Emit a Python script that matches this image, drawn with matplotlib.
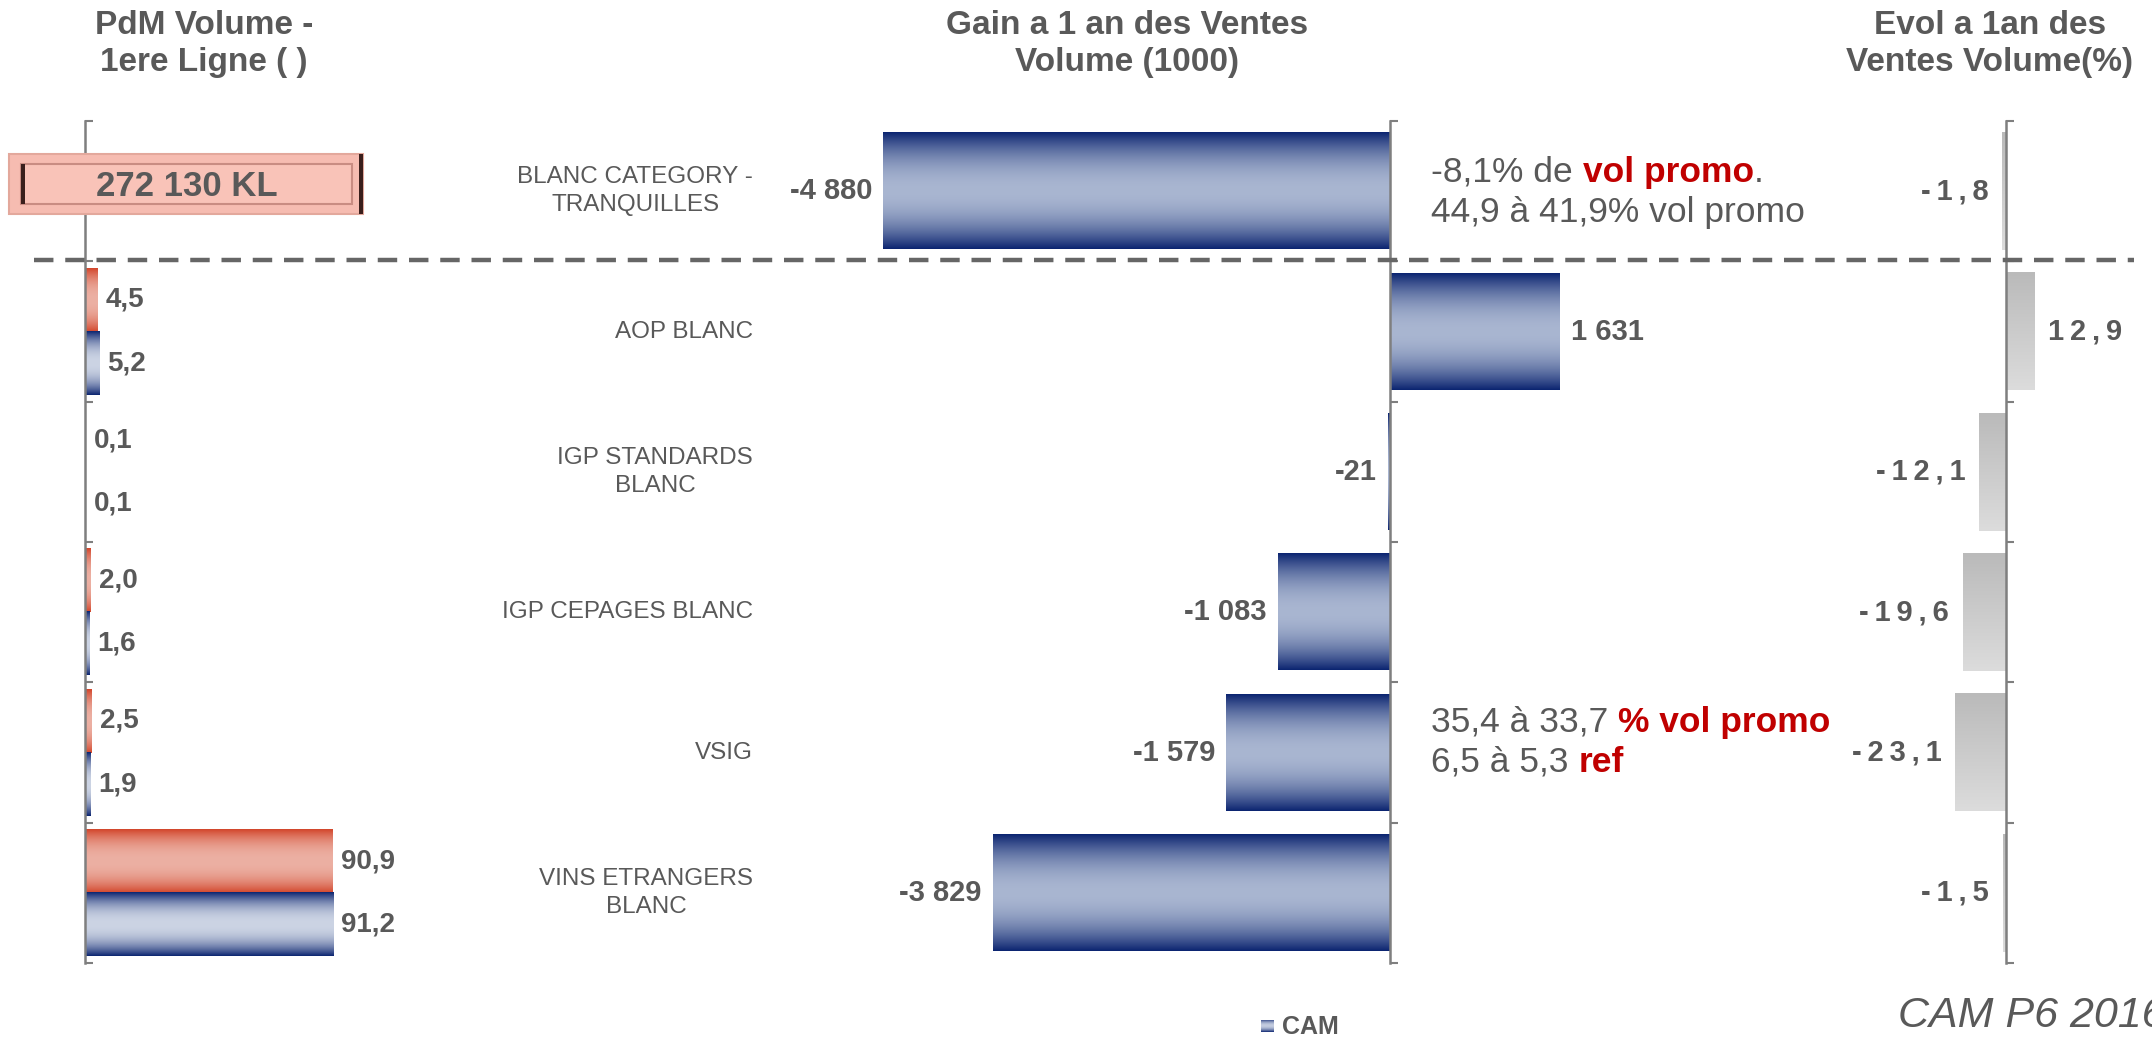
import numpy as np
import matplotlib
matplotlib.use("Agg")
import matplotlib.pyplot as plt
from matplotlib.patches import Rectangle
from matplotlib.lines import Line2D
from matplotlib.transforms import blended_transform_factory
from matplotlib.colors import to_rgb

plt.rcParams['font.family'] = ['Liberation Sans', 'DejaVu Sans']
plt.rcParams['lines.scale_dashes'] = False

# ---- data ----
categories = ["BLANC CATEGORY -\nTRANQUILLES", "AOP BLANC", "IGP STANDARDS\nBLANC",
              "IGP CEPAGES BLANC", "VSIG", "VINS ETRANGERS\nBLANC"]
pdm_red = [np.nan, 4.5, 0.1, 2.0, 2.5, 90.9]
pdm_blue = [np.nan, 5.2, 0.1, 1.6, 1.9, 91.2]
gain_volume = [-4880, 1631, -21, -1083, -1579, -3829]
evol_pct = [-1.8, 12.9, -12.1, -19.6, -23.1, -1.5]
total_label = "272 130 KL"
titles = ["PdM Volume -\n1ere Ligne ( )", "Gain a 1 an des Ventes\nVolume (1000)",
          "Evol a 1an des\nVentes Volume(%)"]
legend_label = "CAM"
source_label = "CAM P6 2016"

GRAY = "#595959"
RED = "#c00000"
AXIS = "#7f7f7f"

W, H = 2152, 1038
fig = plt.figure(figsize=(W / 100, H / 100), dpi=100)
renderer = fig.canvas.get_renderer()

bottom = (H - 963) / H
height = (963 - 121) / H
ax_l = fig.add_axes([85 / W, bottom, 272 / W, height])
ax_m = fig.add_axes([871 / W, bottom, 727 / W, height])
ax_r = fig.add_axes([1940 / W, bottom, 110 / W, height])

n = len(categories)
ypos = np.arange(n)


def fmt_dec(v):
    return f"{v:.1f}".replace(".", ",")


def fmt_int(v):
    return f"{v:,.0f}".replace(",", " ")


def spaced(s):
    # widen the tracking of a short label
    return "\u2009".join(s)


def symmetric_profile(k=256, p=2.0):
    t = np.linspace(0, 1, k)
    return 1 - np.abs(2 * t - 1) ** p


def gradient_fill(ax, rect, edge, center, profile):
    x0, y0 = rect.get_x(), rect.get_y()
    w, h = rect.get_width(), rect.get_height()
    e, c = np.array(to_rgb(edge)), np.array(to_rgb(center))
    cols = e + (c - e) * profile[:, None]
    img = cols[:, None, :]
    ax.imshow(img, extent=(x0, x0 + w, y0 + h, y0), origin="upper",
              aspect="auto", interpolation="bilinear", zorder=2)
    rect.set_facecolor("none")
    rect.set_edgecolor("none")


def style_axis(ax, xlim):
    for s in ["top", "right", "bottom"]:
        ax.spines[s].set_visible(False)
    ax.spines["left"].set_position(("data", 0))
    ax.spines["left"].set_color(AXIS)
    ax.spines["left"].set_linewidth(1.8)
    ax.set_xticks([])
    ax.set_yticks(np.arange(-0.5, n, 1.0))
    ax.set_yticklabels([])
    ax.tick_params(axis="y", direction="in", length=6, width=1.5, color=AXIS)
    ax.set_xlim(*xlim)
    ax.set_ylim(n - 0.5, -0.5)
    ax.patch.set_alpha(0)


# ---- left panel: market share ----
bw = 0.45
rb = ax_l.barh(ypos - bw / 2, np.nan_to_num(pdm_red), height=bw)
bb = ax_l.barh(ypos + bw / 2, np.nan_to_num(pdm_blue), height=bw)
for bars, vals, edge, center in [(rb, pdm_red, "#d2452a", "#ecb0a3"),
                                 (bb, pdm_blue, "#0b2470", "#ccd4e4")]:
    for r, v in zip(bars, vals):
        if np.isnan(v):
            continue
        gradient_fill(ax_l, r, edge, center, symmetric_profile(p=2.2))
        ax_l.annotate(fmt_dec(v), (v, r.get_y() + r.get_height() / 2), xytext=(6, 0),
                      textcoords="offset points", va="center", ha="left",
                      fontsize=20, fontweight="bold", color=GRAY)
style_axis(ax_l, (0, 100))

# ---- middle panel: volume gain ----
mb = ax_m.barh(ypos, gain_volume, height=0.83)
for r, v in zip(mb, gain_volume):
    gradient_fill(ax_m, r, "#0b2470", "#a9b6d1", symmetric_profile(p=2.0))
    ax_m.annotate(fmt_int(v), (v, r.get_y() + r.get_height() / 2),
                  xytext=(8 if v > 0 else -8, 0), textcoords="offset points",
                  va="center", ha="left" if v > 0 else "right",
                  fontsize=21, fontweight="bold", color=GRAY)
style_axis(ax_m, (-5000, 2000))

# ---- right panel: evolution % ----
eb = ax_r.barh(ypos, evol_pct, height=0.84)
for r, v in zip(eb, evol_pct):
    gradient_fill(ax_r, r, "#bababa", "#dcdcdc", np.linspace(0, 1, 256))
    ax_r.annotate(spaced(fmt_dec(v)), (v, r.get_y() + r.get_height() / 2),
                  xytext=(10 if v > 0 else -10, 0), textcoords="offset points",
                  va="center", ha="left" if v > 0 else "right",
                  fontsize=21, fontweight="bold", color=GRAY)
style_axis(ax_r, (-30, 20))

# ---- category labels ----
tr = blended_transform_factory(fig.transFigure, ax_m.transData)
for y, lab in zip(ypos, categories):
    ax_m.text(753 / W, y, lab, transform=tr, ha="right", va="center",
              multialignment="center", fontsize=17.5, color=GRAY, linespacing=1.35)

# ---- titles ----
for xc, t in zip([204, 1127, 1990], titles):
    fig.text(xc / W, 1 - 44 / H, t, ha="center", va="center", fontsize=24,
             fontweight="bold", color=GRAY, linespacing=1.25)

# ---- separator between total and segments ----
fig.add_artist(Line2D([34 / W, 2134 / W], [1 - 260 / H, 1 - 260 / H],
                      transform=fig.transFigure, color="#666666", lw=3.2,
                      dashes=(14, 8.5), zorder=5))

# ---- total volume box ----
fig.add_artist(Rectangle((9 / W, 1 - 214 / H), 354 / W, 60 / H, transform=fig.transFigure,
                         facecolor="#f6bcb1", edgecolor="#e3a89c", lw=1.5, zorder=6))
fig.add_artist(Rectangle((21 / W, 1 - 204 / H), 331 / W, 40 / H, transform=fig.transFigure,
                         facecolor="#f9c3b8", edgecolor="#c98c82", lw=1.5, zorder=7))
fig.add_artist(Rectangle((21 / W, 1 - 204 / H), 4 / W, 40 / H, transform=fig.transFigure,
                         facecolor="#3a1f1c", edgecolor="none", zorder=8))
fig.add_artist(Rectangle((359 / W, 1 - 214 / H), 4 / W, 60 / H, transform=fig.transFigure,
                         facecolor="#3a1f1c", edgecolor="none", zorder=8))
fig.text(187 / W, 1 - 186 / H, total_label, ha="center", va="center", fontsize=25,
         fontweight="bold", color=GRAY, zorder=9)


# ---- commentary text with highlighted words ----
def rich_line(x, y, parts, size=25.5):
    space = size * 100 / 72 * 0.278
    for txt, color, weight in parts:
        if txt == " ":
            x += space
            continue
        t = fig.text(x / W, 1 - y / H, txt, ha="left", va="baseline", fontsize=size,
                     color=color, fontweight=weight)
        x += t.get_window_extent(renderer).width


rich_line(1431, 182, [("-8,1% de", GRAY, "normal"), (" ", None, None),
                      ("vol promo", RED, "bold"), (".", GRAY, "normal")])
rich_line(1431, 222, [("44,9 à 41,9% vol promo", GRAY, "normal")])
rich_line(1431, 732, [("35,4 à 33,7", GRAY, "normal"), (" ", None, None),
                      ("% vol promo", RED, "bold")])
rich_line(1431, 772, [("6,5 à 5,3", GRAY, "normal"), (" ", None, None),
                      ("ref", RED, "bold")])

# ---- legend ----
leg_ax = fig.add_axes([1261 / W, 1 - 1032 / H, 13 / W, 12 / H])
prof = symmetric_profile(p=2.0)
e, c = np.array(to_rgb("#0b2470")), np.array(to_rgb("#c3cce0"))
leg_ax.imshow((e + (c - e) * prof[:, None])[:, None, :], aspect="auto")
leg_ax.axis("off")
fig.text(1282 / W, 1 - 1027 / H, legend_label, ha="left", va="center", fontsize=18,
         fontweight="bold", color=GRAY)

# ---- source ----
fig.text(1898 / W, 1 - 1016 / H, source_label, ha="left", va="center", fontsize=31,
         fontstyle="italic", color=GRAY)

fig.savefig("out.png", dpi=100)
